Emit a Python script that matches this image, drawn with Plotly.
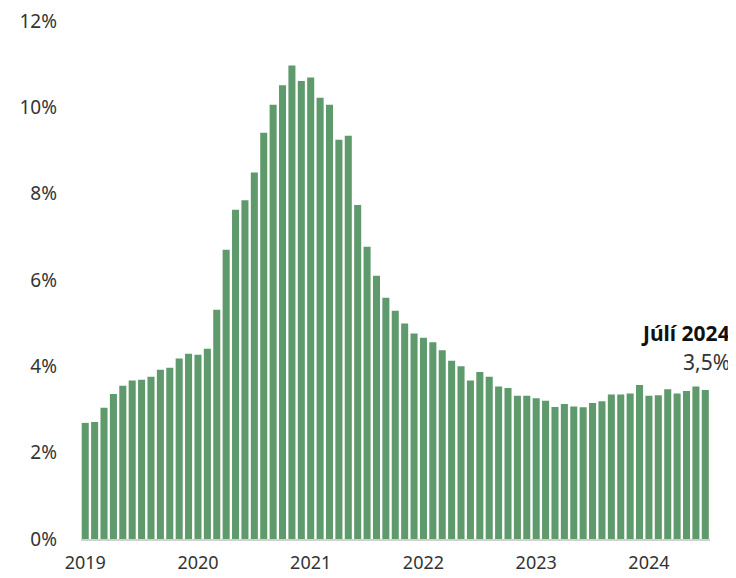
import plotly.graph_objects as go

# Monthly values, Jan 2019 .. Jul 2024 (%)
values_2019 = [2.69, 2.71, 3.04, 3.36, 3.55, 3.67, 3.69, 3.76, 3.92, 3.97, 4.18, 4.29]
values_2020 = [4.27, 4.41, 5.31, 6.70, 7.63, 7.85, 8.49, 9.41, 10.06, 10.51, 10.97, 10.61]
values_2021 = [10.69, 10.22, 10.06, 9.25, 9.34, 7.74, 6.77, 6.10, 5.59, 5.29, 4.99, 4.76]
values_2022 = [4.66, 4.56, 4.37, 4.13, 4.00, 3.67, 3.87, 3.76, 3.53, 3.50, 3.32, 3.32]
values_2023 = [3.26, 3.20, 3.06, 3.13, 3.07, 3.05, 3.15, 3.19, 3.35, 3.35, 3.37, 3.57]
values_2024 = [3.32, 3.33, 3.47, 3.37, 3.43, 3.53, 3.45]

values = values_2019 + values_2020 + values_2021 + values_2022 + values_2023 + values_2024
months = list(range(len(values)))

year_ticks = [0, 12, 24, 36, 48, 60]
year_labels = ["2019", "2020", "2021", "2022", "2023", "2024"]
y_ticks = [0, 2, 4, 6, 8, 10, 12]
y_labels = ["0%", "2%", "4%", "6%", "8%", "10%", "12%"]

last_label = "Júlí 2024"
last_value_text = "3,5%"

FONT = "Noto Sans"
GREEN = "#5f9a6c"

# page body has an 8px offset; figure is sized to fill the rest
OFF = 8
W, H = 736 - OFF, 578 - OFF
L, R, T, B = 81 - OFF, 26, 19 - OFF, 39
PW, PH = W - L - R, H - T - B
Y_TOP = 12 * (539 - 19) / (539 - 21)

fig = go.Figure()
fig.add_trace(go.Bar(
    x=months, y=values,
    marker=dict(color=GREEN, line=dict(width=0)),
    hoverinfo="skip",
))

fig.update_layout(
    width=W, height=H,
    margin=dict(l=L, r=R, t=T, b=B),
    paper_bgcolor="white", plot_bgcolor="white",
    showlegend=False,
    bargap=0.25,
    font=dict(family=FONT, size=18, color="#333333"),
    xaxis=dict(
        range=[-0.45, 66.5], automargin=False,
        tickmode="array", tickvals=year_ticks, ticktext=year_labels,
        showgrid=False, zeroline=False,
        showline=True, linecolor="#d0d0d0", linewidth=2,
        ticks="", tickfont=dict(size=18, color="#333333"),
        ticklabelstandoff=6, ticklabeloverflow="allow",
    ),
    yaxis=dict(
        range=[0, Y_TOP], automargin=False,
        tickmode="array", tickvals=y_ticks, ticktext=y_labels,
        showgrid=False, zeroline=False, showline=False,
        ticks="", tickfont=dict(size=19, color="#333333"),
        ticklabelstandoff=23, ticklabeloverflow="allow",
    ),
)

fig.add_annotation(
    xref="paper", yref="paper", x=(732 - 81) / PW, y=(539 - 333) / PH,
    text="<b>" + last_label + "</b>", showarrow=False,
    xanchor="right", yanchor="middle",
    font=dict(family=FONT, size=21, color="#111111"),
)
fig.add_annotation(
    xref="paper", yref="paper", x=(732 - 81) / PW, y=(539 - 362) / PH,
    text=last_value_text, showarrow=False,
    xanchor="right", yanchor="middle",
    font=dict(family=FONT, size=21, color="#333333"),
)

fig.write_html("out.html")
